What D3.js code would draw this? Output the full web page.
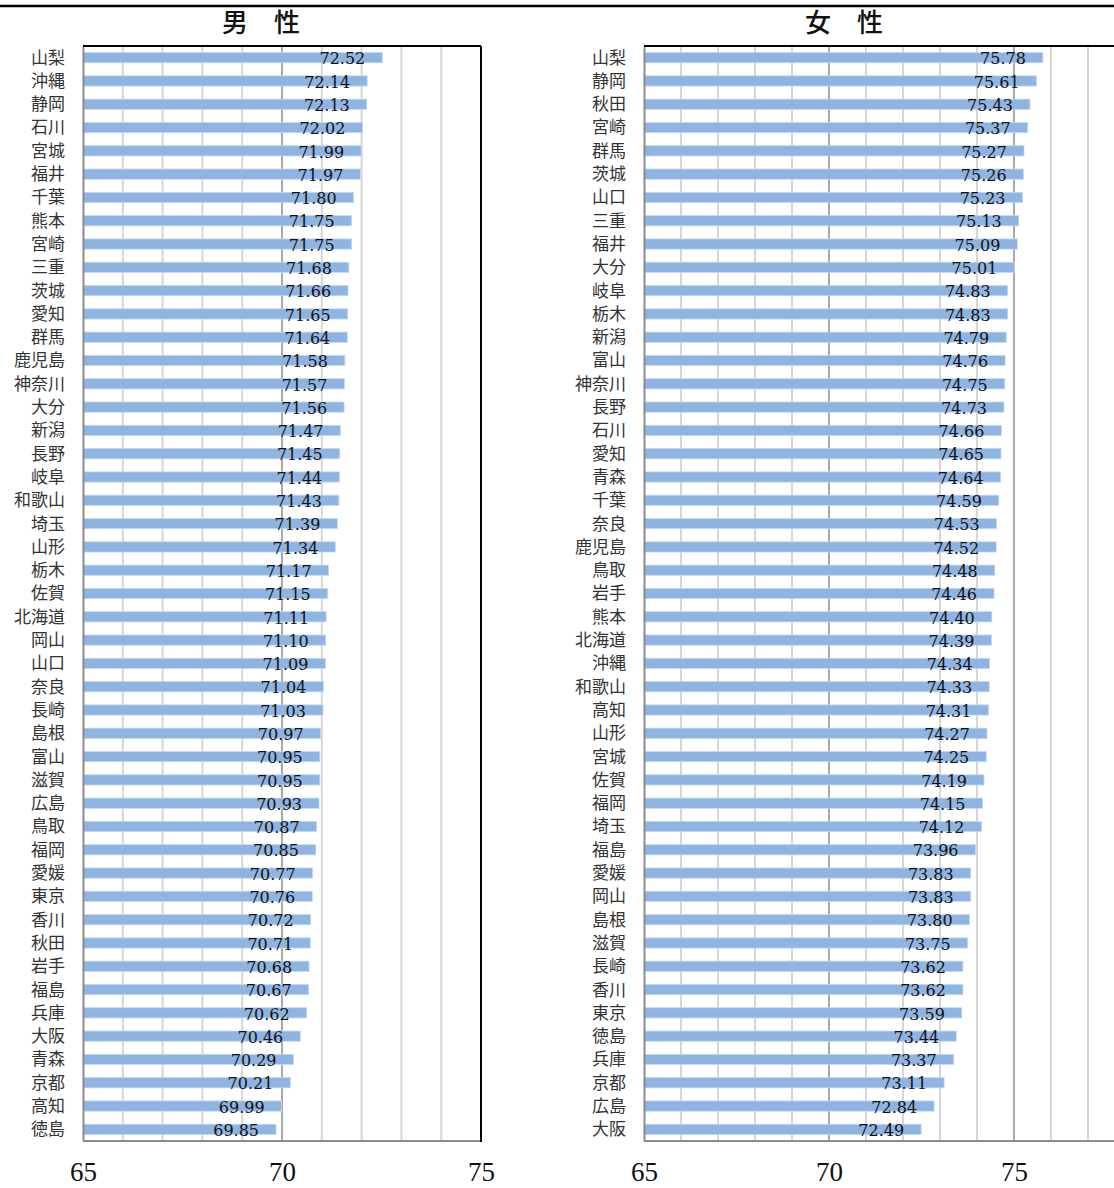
<!DOCTYPE html>
<html lang="ja">
<head>
  <meta charset="UTF-8" />
  <title>男性・女性</title>
  <script src="https://d3js.org/d3.v7.min.js"></script>
  <style>
    html, body {
      margin: 0;
      padding: 0;
      background: #fff;
      overflow: hidden;
    }
    svg {
      display: block;
    }
    .cat {
      font-family: "Noto Sans CJK JP", sans-serif;
      font-size: 17px;
      fill: #333;
    }
    .val {
      font-family: "DejaVu Serif", serif;
      font-size: 16px;
      fill: #111;
    }
    .tick-label {
      font-family: "Liberation Serif", serif;
      font-size: 27px;
      fill: #111;
    }
    .title {
      font-family: "Noto Sans CJK JP", sans-serif;
      font-size: 26px;
      font-weight: 500;
      fill: #111;
    }
  </style>
</head>
<body>
  <svg id="chart" width="1114" height="1188"></svg>

  <script>
    const maleNames = ["山梨", "沖縄", "静岡", "石川", "宮城", "福井", "千葉", "熊本", "宮崎", "三重",
      "茨城", "愛知", "群馬", "鹿児島", "神奈川", "大分", "新潟", "長野", "岐阜", "和歌山",
      "埼玉", "山形", "栃木", "佐賀", "北海道", "岡山", "山口", "奈良", "長崎", "島根",
      "富山", "滋賀", "広島", "鳥取", "福岡", "愛媛", "東京", "香川", "秋田", "岩手",
      "福島", "兵庫", "大阪", "青森", "京都", "高知", "徳島"];
    const maleValues = [72.52, 72.14, 72.13, 72.02, 71.99, 71.97, 71.80, 71.75, 71.75, 71.68,
      71.66, 71.65, 71.64, 71.58, 71.57, 71.56, 71.47, 71.45, 71.44, 71.43,
      71.39, 71.34, 71.17, 71.15, 71.11, 71.10, 71.09, 71.04, 71.03, 70.97,
      70.95, 70.95, 70.93, 70.87, 70.85, 70.77, 70.76, 70.72, 70.71, 70.68,
      70.67, 70.62, 70.46, 70.29, 70.21, 69.99, 69.85];

    const femaleNames = ["山梨", "静岡", "秋田", "宮崎", "群馬", "茨城", "山口", "三重", "福井", "大分",
      "岐阜", "栃木", "新潟", "富山", "神奈川", "長野", "石川", "愛知", "青森", "千葉",
      "奈良", "鹿児島", "鳥取", "岩手", "熊本", "北海道", "沖縄", "和歌山", "高知", "山形",
      "宮城", "佐賀", "福岡", "埼玉", "福島", "愛媛", "岡山", "島根", "滋賀", "長崎",
      "香川", "東京", "徳島", "兵庫", "京都", "広島", "大阪"];
    const femaleValues = [75.78, 75.61, 75.43, 75.37, 75.27, 75.26, 75.23, 75.13, 75.09, 75.01,
      74.83, 74.83, 74.79, 74.76, 74.75, 74.73, 74.66, 74.65, 74.64, 74.59,
      74.53, 74.52, 74.48, 74.46, 74.40, 74.39, 74.34, 74.33, 74.31, 74.27,
      74.25, 74.19, 74.15, 74.12, 73.96, 73.83, 73.83, 73.80, 73.75, 73.62,
      73.62, 73.59, 73.44, 73.37, 73.11, 72.84, 72.49];

    const maleTicks = [65, 70, 75];
    const femaleTicks = [65, 70, 75];

    const svg = d3.select("#chart");

    // thick rule across the top
    svg.append("line")
      .attr("x1", 0).attr("x2", 1114)
      .attr("y1", 6).attr("y2", 6)
      .attr("stroke", "#000").attr("stroke-width", 2.5);

    const plotTop = 46, plotBottom = 1141;

    function drawPanel(opt) {
      const names = opt.names, values = opt.values;
      const x = d3.scaleLinear().domain(opt.domain).range([opt.left, opt.right]);
      const y = d3.scaleBand().domain(names).range([plotTop, plotBottom]).paddingInner(0.56).paddingOuter(0.28);
      const g = svg.append("g");

      // gridlines, one per unit
      const grid = d3.range(opt.domain[0] + 1, opt.domain[1] + 1);
      g.append("g").selectAll("line")
        .data(grid)
        .join("line")
        .attr("x1", d => x(d)).attr("x2", d => x(d))
        .attr("y1", plotTop).attr("y2", plotBottom)
        .attr("stroke", d => d % 5 === 0 ? "#8c8c8c" : "#d6d6d6")
        .attr("stroke-width", d => d % 5 === 0 ? 1.5 : 2);

      // bars
      g.append("g").selectAll("rect")
        .data(values)
        .join("rect")
        .attr("x", x(opt.domain[0]))
        .attr("y", (d, i) => y(names[i]))
        .attr("width", d => x(d) - x(opt.domain[0]))
        .attr("height", y.bandwidth())
        .attr("fill", "#8eb4e2")
        .attr("stroke", "#c6d9f1")
        .attr("stroke-width", 0.8);

      // value labels
      g.append("g").selectAll("text")
        .data(values)
        .join("text")
        .attr("class", "val")
        .attr("x", d => x(d) - 17)
        .attr("y", (d, i) => y(names[i]) + y.bandwidth() / 2)
        .attr("dy", "0.42em")
        .attr("text-anchor", "end")
        .text(d => d.toFixed(2));

      // category axis (left)
      const yAxis = d3.axisLeft(y).tickSize(0).tickPadding(18);
      const ya = g.append("g")
        .attr("transform", `translate(${x(opt.domain[0])},0)`)
        .call(yAxis);
      ya.select(".domain").attr("stroke", "#8c8c8c").attr("stroke-width", 2);
      ya.selectAll("text").attr("class", "cat").attr("font-size", null).attr("font-family", null).attr("fill", null)
        .attr("dy", "0.35em");

      // bottom axis line
      g.append("line")
        .attr("x1", x(opt.domain[0])).attr("x2", opt.right)
        .attr("y1", plotBottom).attr("y2", plotBottom)
        .attr("stroke", "#8c8c8c").attr("stroke-width", 2);

      // frame top / right
      g.append("line")
        .attr("x1", x(opt.domain[0])).attr("x2", opt.right)
        .attr("y1", plotTop).attr("y2", plotTop)
        .attr("stroke", "#000").attr("stroke-width", 2);
      g.append("line")
        .attr("x1", opt.right).attr("x2", opt.right)
        .attr("y1", plotTop).attr("y2", plotBottom + 1)
        .attr("stroke", "#000").attr("stroke-width", 2);

      // tick labels under the plot
      const xAxis = d3.axisBottom(x).tickValues(opt.ticks).tickSize(0).tickPadding(0).tickFormat(d3.format("d"));
      const xa = g.append("g")
        .attr("transform", `translate(0,1181)`)
        .call(xAxis);
      xa.select(".domain").remove();
      xa.selectAll("text").attr("class", "tick-label").attr("font-size", null).attr("font-family", null)
        .attr("fill", null).attr("dy", 0);

      // title
      svg.append("text")
        .attr("class", "title")
        .attr("x", opt.titleX)
        .attr("y", 32)
        .attr("text-anchor", "middle")
        .text(opt.title);
    }

    drawPanel({
      names: maleNames, values: maleValues, ticks: maleTicks,
      domain: [65, 75], left: 83, right: 481,
      title: "男\u3000性", titleX: 261
    });

    drawPanel({
      names: femaleNames, values: femaleValues, ticks: femaleTicks,
      domain: [65, 80], left: 644, right: 644 + 37 * 15,
      title: "女\u3000性", titleX: 844
    });
  </script>
</body>
</html>
